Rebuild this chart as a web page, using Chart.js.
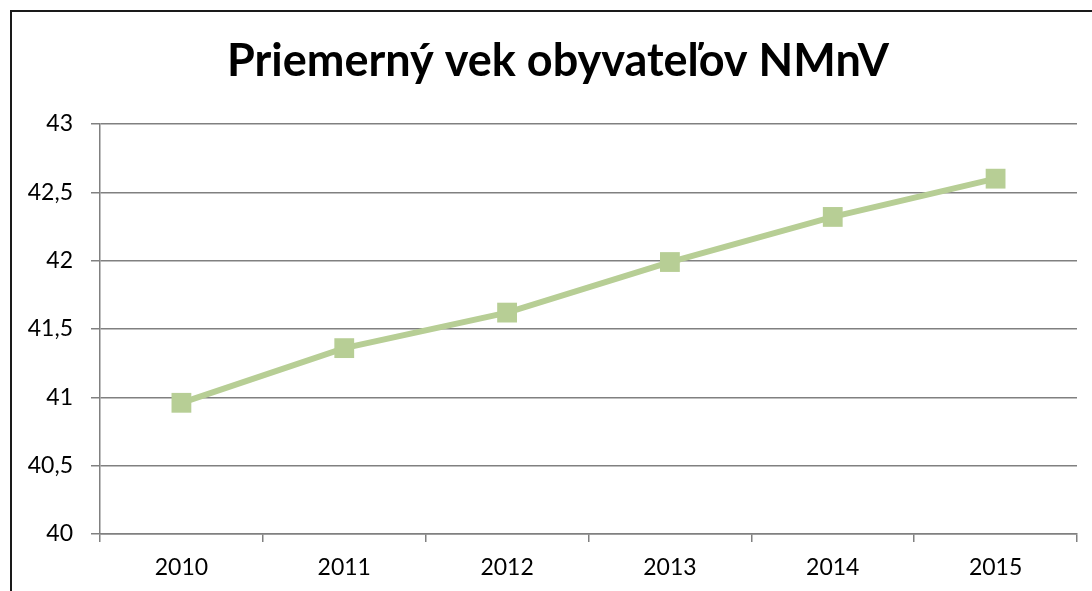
<!DOCTYPE html>
<html>
<head>
    <meta charset="utf-8">
    <script src="https://cdn.jsdelivr.net/npm/chart.js"></script>
    <title>Priemerný vek</title>
    <style>
        body { margin: 0; background: #fff; }
        #wrap { position: relative; width: 1092px; height: 591px; overflow: hidden; }
        #frame { position: absolute; left: 10px; top: 10px; width: 1200px; height: 700px;
                 border-left: 2px solid #1a1a1a; border-top: 2px solid #1a1a1a; }
        canvas { position: absolute; left: 0; top: 0; }
    </style>
</head>
<body>
<div id="wrap">
    <div id="frame"></div>
    <canvas id="ageChart" width="1092" height="591"></canvas>
</div>

<script>
    // data
    var years = ['2010', '2011', '2012', '2013', '2014', '2015'];
    var avgAge = [40.96, 41.36, 41.62, 41.99, 42.32, 42.6];
    var yMin = 40, yMax = 43, yStep = 0.5;
    var chartTitle = 'Priemerný vek obyvateľov NMnV';

    var lineColor = '#b7ce95';
    var gridColor = '#808080';

    // title is centred on the whole framed chart object, not on the canvas,
    // so it is drawn by a small plugin instead of the built-in title
    var frameTitle = {
        id: 'frameTitle',
        afterDraw: function(chart) {
            var c = chart.ctx;
            c.save();
            c.font = 'bold 45px Lato';
            c.fillStyle = '#000';
            c.textAlign = 'center';
            c.textBaseline = 'middle';
            c.fillText(chartTitle, 558, 61);
            c.restore();
        }
    };

    var ctx = document.getElementById('ageChart');
    var ageChart = new Chart(ctx, {
        type: 'line',
        data: {
            labels: years,
            datasets: [{
                label: 'Priemerný vek',
                data: avgAge,
                borderColor: lineColor,
                backgroundColor: lineColor,
                borderWidth: 6,
                pointStyle: 'rect',
                pointRadius: 14,
                pointBorderWidth: 0,
                pointBackgroundColor: lineColor,
                tension: 0
            }]
        },
        options: {
            responsive: false,
            animation: false,
            layout: { padding: { left: 0, right: 15, top: 124, bottom: 0 } },
            plugins: {
                legend: { display: false },
                tooltip: { enabled: false },
                title: { display: false }
            },
            scales: {
                x: {
                    offset: true,
                    grid: {
                        offset: true,
                        drawOnChartArea: false,
                        drawTicks: true,
                        tickLength: 8,
                        color: gridColor,
                        lineWidth: 1.5
                    },
                    border: { color: gridColor, width: 1.5 },
                    ticks: {
                        color: '#000',
                        padding: 12,
                        font: { family: 'Lato', size: 23 }
                    },
                    afterFit: function(scale) { scale.height = 57; }
                },
                y: {
                    min: yMin,
                    max: yMax,
                    grid: {
                        color: gridColor,
                        lineWidth: 1.5,
                        tickLength: 9
                    },
                    border: { color: gridColor, width: 1.5 },
                    ticks: {
                        stepSize: yStep,
                        color: '#000',
                        padding: 18,
                        font: { family: 'Lato', size: 23 },
                        callback: function(v) { return String(v).replace('.', ','); }
                    },
                    afterFit: function(scale) { scale.width = 100; }
                }
            }
        },
        plugins: [frameTitle]
    });
</script>
</body>
</html>
